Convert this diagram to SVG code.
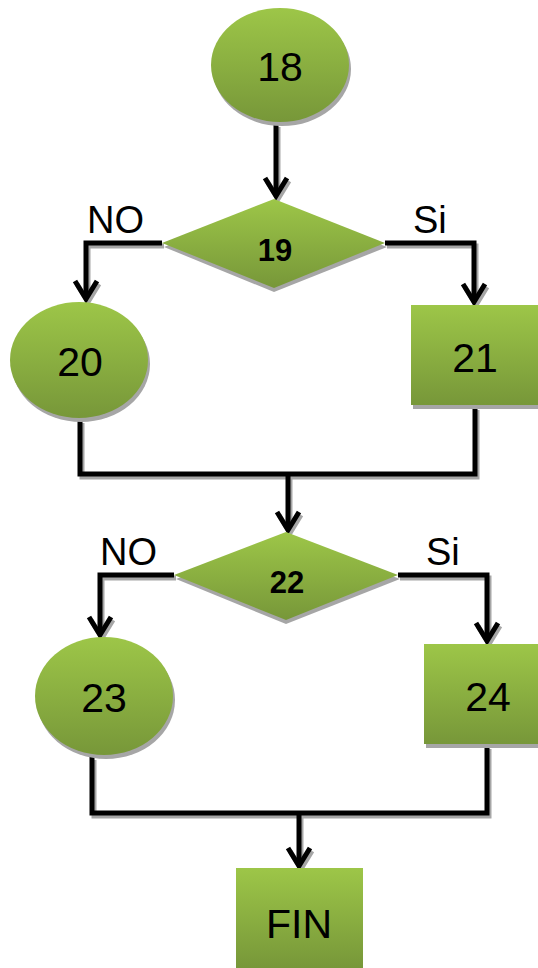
<svg xmlns="http://www.w3.org/2000/svg" width="538" height="968" viewBox="0 0 538 968">
<defs>
<linearGradient id="g" x1="0" y1="0" x2="0" y2="1">
<stop offset="0" stop-color="#9dc648"/>
<stop offset="1" stop-color="#779739"/>
</linearGradient>
<marker id="ah" markerUnits="userSpaceOnUse" markerWidth="40" markerHeight="40" refX="20" refY="20" orient="auto" viewBox="0 0 40 40">
<path d="M2,9 L20,20 L2,31" fill="none" stroke="#000" stroke-width="5"/>
</marker>
<marker id="ahs" markerUnits="userSpaceOnUse" markerWidth="40" markerHeight="40" refX="20" refY="20" orient="auto" viewBox="0 0 40 40">
<path d="M2,9 L20,20 L2,31" fill="none" stroke="#a6a6a6" stroke-width="5"/>
</marker>
</defs>
<style>
.n{fill:url(#g);}
.sh{fill:#a6a6a6;}
.t{font-family:"Liberation Sans",Arial,sans-serif;font-size:41px;fill:#000;text-anchor:middle;}
.b{font-family:"Liberation Sans",Arial,sans-serif;font-size:31px;font-weight:bold;fill:#000;text-anchor:middle;}
.l{font-family:"Liberation Sans",Arial,sans-serif;font-size:38px;fill:#000;}
.c{fill:none;stroke:#000;stroke-width:5;}
.cs{fill:none;stroke:#a6a6a6;stroke-width:5;}
</style>
<g id="connectors">
<g transform="translate(2,3)">
<path class="cs" d="M276,124 V196" marker-end="url(#ahs)"/>
<path class="cs" d="M162,243 H86 V299" marker-end="url(#ahs)"/>
<path class="cs" d="M385,243 H474 V302" marker-end="url(#ahs)"/>
<path class="cs" d="M80,420 V474 H475 V407"/>
<path class="cs" d="M288,474 V530" marker-end="url(#ahs)"/>
<path class="cs" d="M174,575 H100 V635" marker-end="url(#ahs)"/>
<path class="cs" d="M398,575 H487 V641" marker-end="url(#ahs)"/>
<path class="cs" d="M92,757 V813 H487 V746"/>
<path class="cs" d="M299,813 V866" marker-end="url(#ahs)"/>
</g>
<path class="c" d="M276,124 V196" marker-end="url(#ah)"/>
<path class="c" d="M162,243 H86 V299" marker-end="url(#ah)"/>
<path class="c" d="M385,243 H474 V302" marker-end="url(#ah)"/>
<path class="c" d="M80,420 V474 H475 V407"/>
<path class="c" d="M288,474 V530" marker-end="url(#ah)"/>
<path class="c" d="M174,575 H100 V635" marker-end="url(#ah)"/>
<path class="c" d="M398,575 H487 V641" marker-end="url(#ah)"/>
<path class="c" d="M92,757 V813 H487 V746"/>
<path class="c" d="M299,813 V866" marker-end="url(#ah)"/>
<text class="l" x="87" y="233">NO</text>
<text class="l" x="413" y="233">Si</text>
<text class="l" x="100" y="565">NO</text>
<text class="l" x="426" y="565">Si</text>
</g>
<g id="n18">
<ellipse class="sh" cx="282" cy="69" rx="69" ry="57"/>
<ellipse class="n" cx="280" cy="65" rx="69" ry="57"/>
<text class="t" x="280" y="81">18</text>
</g>
<g id="n19">
<polygon class="sh" points="274,203 387,247 274,292 164,247"/>
<polygon class="n" points="274,199 385,243 274,288 162,243"/>
<text class="b" x="275" y="261">19</text>
</g>
<g id="n20">
<ellipse class="sh" cx="81" cy="364" rx="69" ry="58"/>
<ellipse class="n" cx="79" cy="360" rx="69" ry="58"/>
<text class="t" x="80" y="376">20</text>
</g>
<g id="n21">
<rect class="sh" x="413" y="309" width="127" height="100"/>
<rect class="n" x="411" y="305" width="127" height="100"/>
<text class="t" x="475" y="372">21</text>
</g>
<g id="n22">
<polygon class="sh" points="286,536 400,579 286,624 176,579"/>
<polygon class="n" points="286,532 398,575 286,620 174,575"/>
<text class="b" x="287" y="593">22</text>
</g>
<g id="n23">
<ellipse class="sh" cx="106" cy="700" rx="69" ry="59"/>
<ellipse class="n" cx="104" cy="696" rx="69" ry="59"/>
<text class="t" x="104" y="712">23</text>
</g>
<g id="n24">
<rect class="sh" x="426" y="648" width="114" height="100"/>
<rect class="n" x="424" y="644" width="114" height="100"/>
<text class="t" x="488" y="711">24</text>
</g>
<g id="fin">
<rect class="n" x="236" y="868" width="127" height="100"/>
<text class="t" x="299" y="938">FIN</text>
</g>
</svg>
